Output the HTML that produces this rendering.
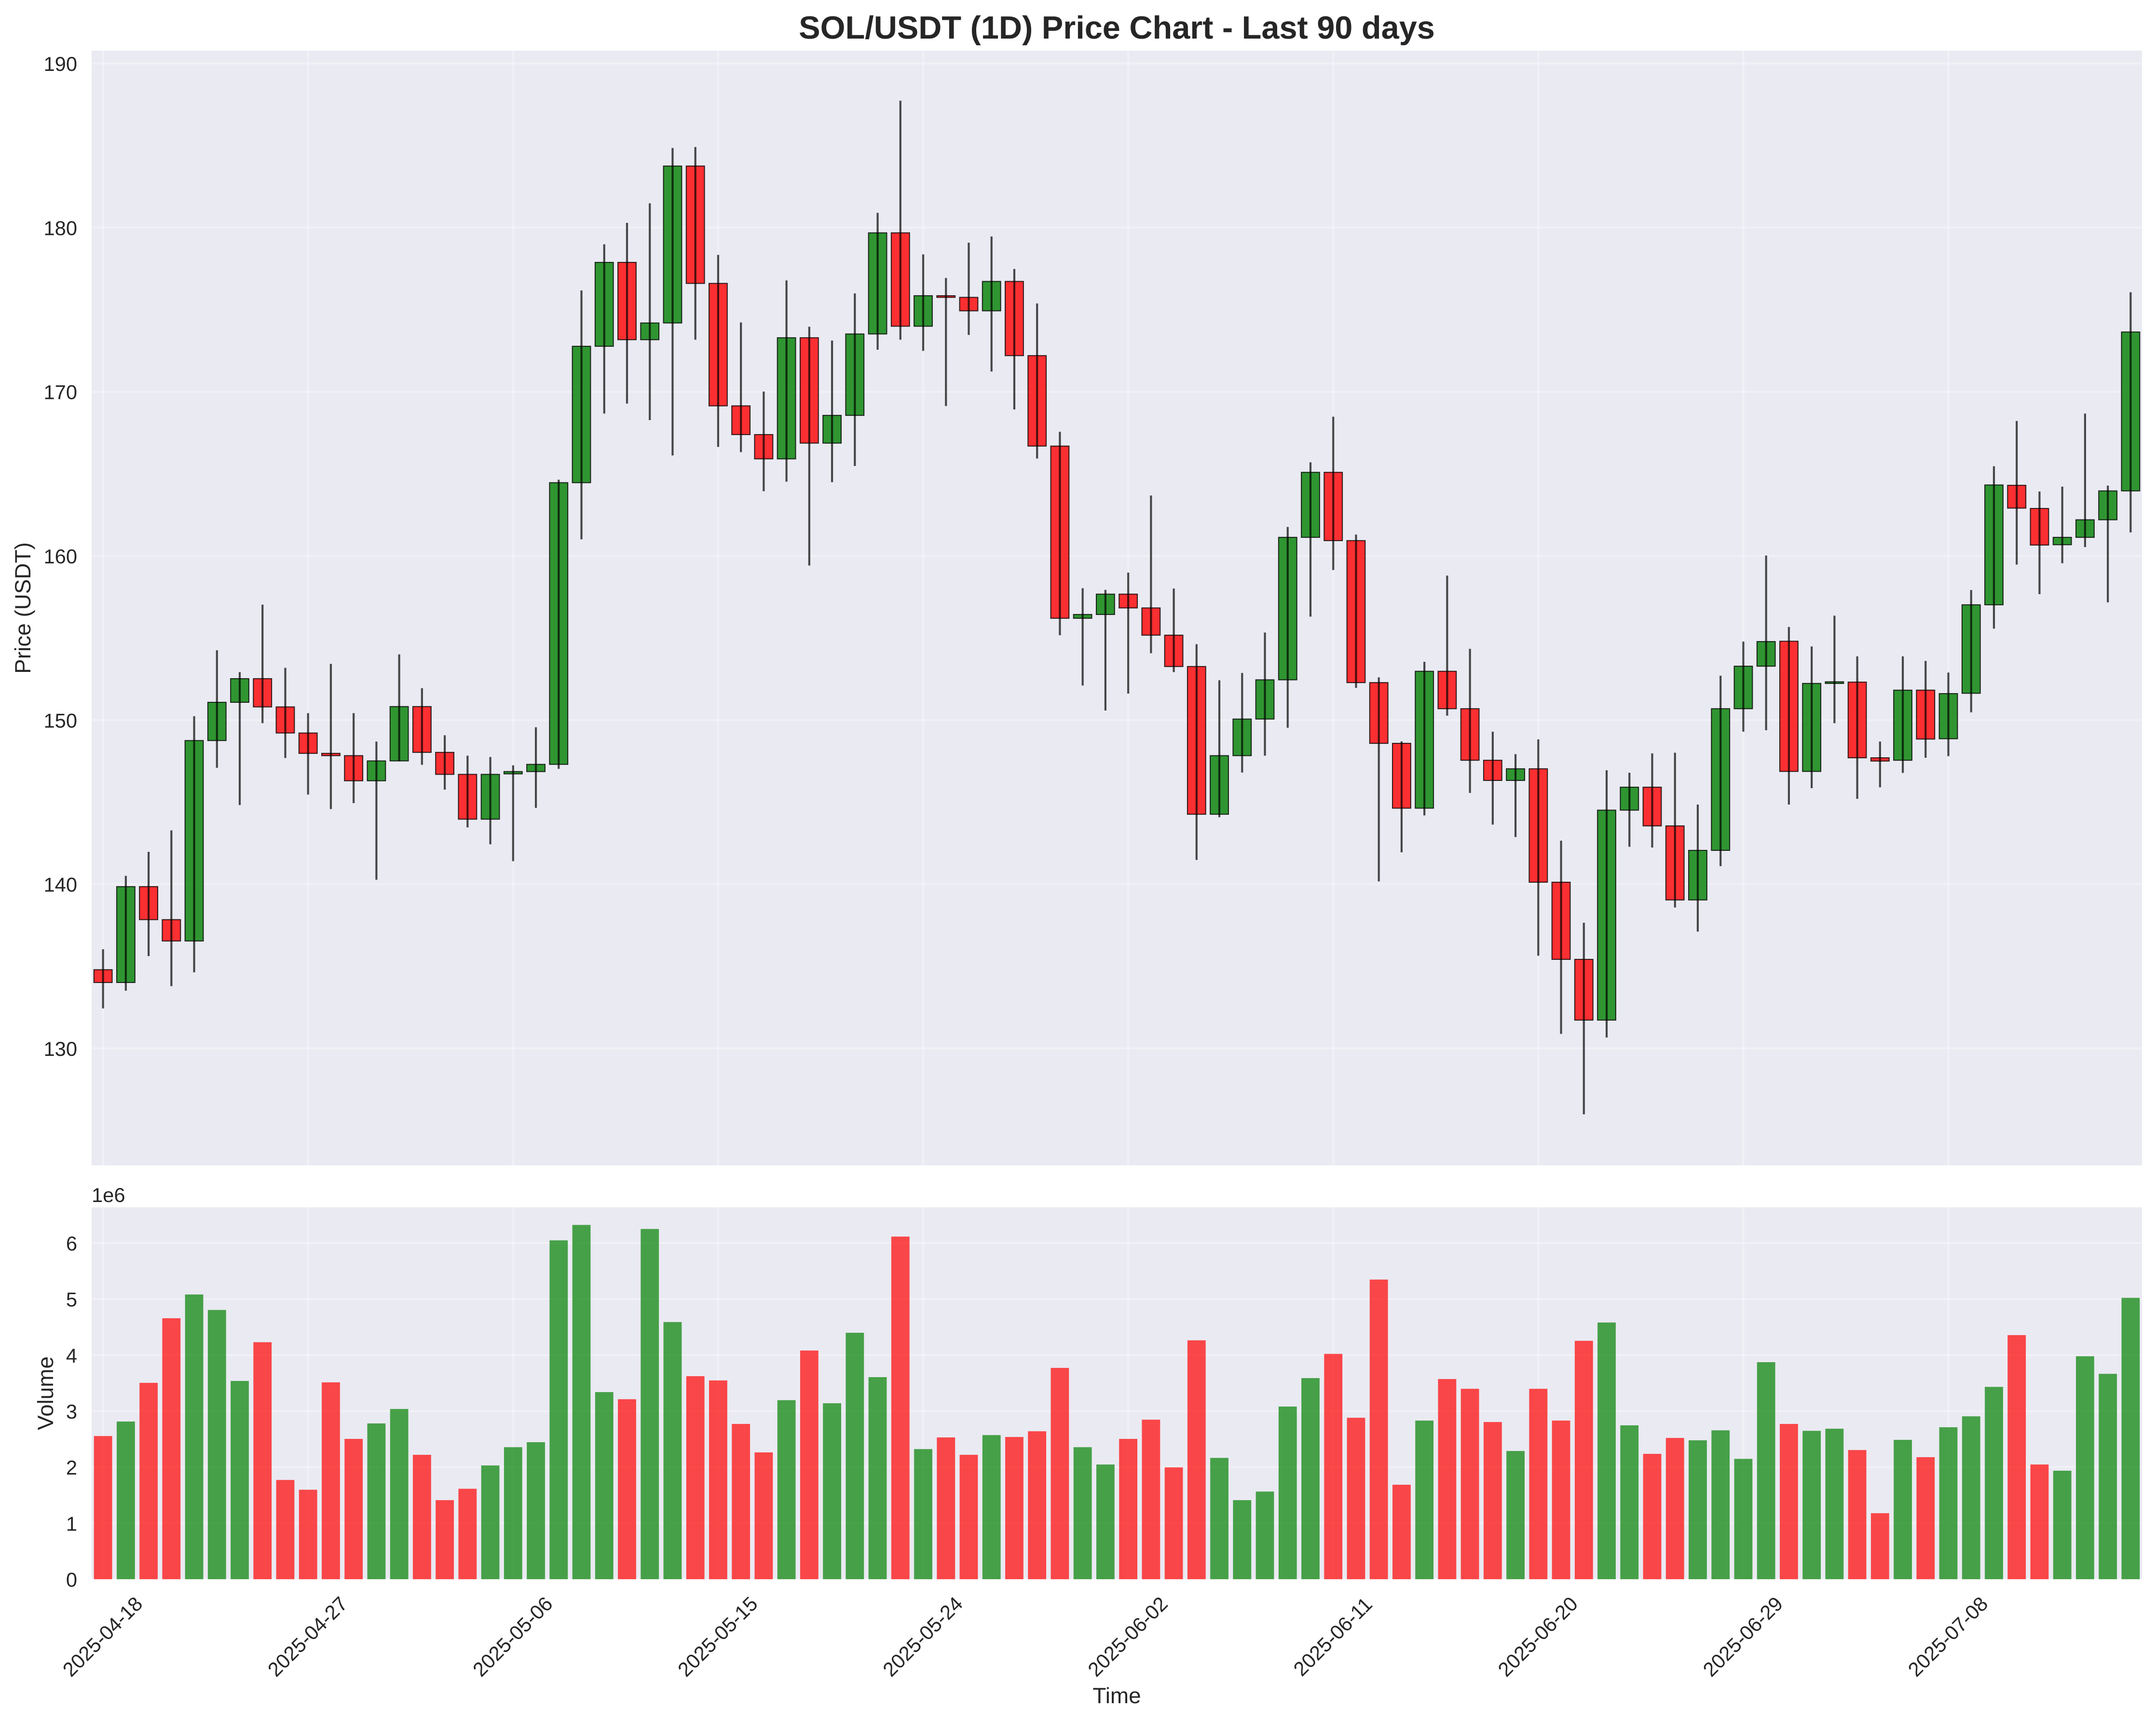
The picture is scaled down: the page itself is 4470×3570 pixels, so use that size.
<!DOCTYPE html>
<html lang="en">
<head>
<meta charset="utf-8">
<title>SOL/USDT (1D) Price Chart - Last 90 days</title>
<style>
html,body{margin:0;padding:0;background:#fff;}
svg{display:block;}
text{font-family:"Liberation Sans",Arial,sans-serif;fill:#262626;text-rendering:geometricPrecision;}
</style>
</head>
<body>
<svg id="chart" xmlns="http://www.w3.org/2000/svg" width="4470" height="3570" viewBox="0 0 4470 3570">
  <rect x="0" y="0" width="4470" height="3570" fill="#ffffff"/>
  <rect x="190" y="105" width="4251" height="2311" fill="#EAEAF2"/>
  <rect x="190" y="2503" width="4251" height="771" fill="#EAEAF2"/>
  <g id="grid"></g>
  <g id="volume-bars"></g>
  <g id="candles"></g>
  <g id="tick-labels"></g>
  <text x="2315.5" y="80" text-anchor="middle" font-size="66.67" font-weight="bold">SOL/USDT (1D) Price Chart - Last 90 days</text>
  <text transform="translate(63,1260.5) rotate(-90)" text-anchor="middle" font-size="45.83">Price (USDT)</text>
  <text transform="translate(110,2888.5) rotate(-90)" text-anchor="middle" font-size="45.83">Volume</text>
  <text x="2315.5" y="3531" text-anchor="middle" font-size="45.83">Time</text>
  <text x="190" y="2492" font-size="41.67">1e6</text>
</svg>
<script>
const categories = [
"2025-04-18","2025-04-19","2025-04-20","2025-04-21","2025-04-22","2025-04-23","2025-04-24","2025-04-25","2025-04-26","2025-04-27",
"2025-04-28","2025-04-29","2025-04-30","2025-05-01","2025-05-02","2025-05-03","2025-05-04","2025-05-05","2025-05-06","2025-05-07",
"2025-05-08","2025-05-09","2025-05-10","2025-05-11","2025-05-12","2025-05-13","2025-05-14","2025-05-15","2025-05-16","2025-05-17",
"2025-05-18","2025-05-19","2025-05-20","2025-05-21","2025-05-22","2025-05-23","2025-05-24","2025-05-25","2025-05-26","2025-05-27",
"2025-05-28","2025-05-29","2025-05-30","2025-05-31","2025-06-01","2025-06-02","2025-06-03","2025-06-04","2025-06-05","2025-06-06",
"2025-06-07","2025-06-08","2025-06-09","2025-06-10","2025-06-11","2025-06-12","2025-06-13","2025-06-14","2025-06-15","2025-06-16",
"2025-06-17","2025-06-18","2025-06-19","2025-06-20","2025-06-21","2025-06-22","2025-06-23","2025-06-24","2025-06-25","2025-06-26",
"2025-06-27","2025-06-28","2025-06-29","2025-06-30","2025-07-01","2025-07-02","2025-07-03","2025-07-04","2025-07-05","2025-07-06",
"2025-07-07","2025-07-08","2025-07-09","2025-07-10","2025-07-11","2025-07-12","2025-07-13","2025-07-14","2025-07-15","2025-07-16"];
const opens = [
134.79,134.01,139.85,137.84,136.54,148.75,151.08,152.52,150.80,149.21,
147.97,147.83,146.30,147.51,150.82,148.03,146.69,143.96,146.72,146.86,
147.30,164.46,172.77,177.88,173.17,174.19,183.75,176.60,169.14,167.39,
165.91,173.29,166.87,168.56,173.52,179.68,173.99,175.85,175.75,174.93,
176.72,172.20,166.69,156.20,156.43,157.67,156.83,155.17,153.26,144.26,
147.83,150.06,152.45,161.13,165.09,160.93,152.28,148.58,144.63,152.97,
150.69,147.55,146.32,147.03,140.12,135.42,131.72,144.51,145.91,143.55,
139.04,142.06,150.69,153.28,154.80,146.87,152.23,152.31,147.70,147.55,
151.82,148.86,151.63,157.02,164.30,162.89,160.68,161.13,162.20,163.96];
const closes = [
134.01,139.85,137.84,136.54,148.75,151.08,152.52,150.80,149.21,147.97,
147.83,146.30,147.51,150.82,148.03,146.69,143.96,146.69,146.86,147.30,
164.46,172.77,177.88,173.17,174.19,183.75,176.60,169.14,167.39,165.91,
173.29,166.87,168.56,173.52,179.68,173.99,175.85,175.75,174.93,176.72,
172.20,166.69,156.20,156.43,157.67,156.83,155.17,153.26,144.26,147.83,
150.06,152.45,161.13,165.09,160.93,152.28,148.58,144.63,152.97,150.69,
147.55,146.32,147.03,140.12,135.42,131.72,144.51,145.91,143.55,139.04,
142.06,150.69,153.28,154.78,146.87,152.23,152.33,147.70,147.50,151.82,
148.84,151.61,157.02,164.32,162.91,160.66,161.13,162.20,163.96,173.64];
const highs = [
136.04,140.51,141.97,143.28,150.23,154.25,152.92,157.03,153.18,150.42,
153.42,150.42,148.69,154.00,151.94,149.07,147.83,147.75,147.24,149.56,
164.64,176.17,178.98,180.29,181.48,184.85,184.91,178.34,174.22,170.01,
176.78,173.96,173.12,175.99,180.90,187.73,178.37,176.93,179.08,179.46,
177.48,175.38,167.56,158.03,157.93,158.98,163.68,158.01,154.62,152.42,
152.87,155.33,161.76,165.70,168.48,161.30,152.60,148.70,153.55,158.80,
154.34,149.29,147.92,148.82,142.65,137.65,146.94,146.79,147.97,148.01,
144.85,152.70,154.78,160.02,155.67,154.48,156.36,153.88,148.69,153.88,
153.60,152.89,157.92,165.46,168.22,163.92,164.22,168.67,164.28,176.06];
const lows = [
132.43,133.51,135.62,133.79,134.63,147.09,144.82,149.81,147.69,145.46,
144.58,144.94,140.27,147.49,147.27,145.76,143.46,142.43,141.40,144.65,
147.03,161.01,168.67,169.28,168.27,166.12,173.17,166.64,166.32,163.94,
164.52,159.41,164.49,165.48,172.56,173.17,172.49,169.13,173.46,171.23,
168.92,165.93,155.17,152.10,150.58,151.61,154.07,152.92,141.48,144.08,
146.80,147.83,149.53,156.30,159.14,151.96,140.17,141.94,144.19,150.27,
145.56,143.63,142.87,135.64,130.88,125.98,130.66,142.28,142.23,138.58,
137.11,141.10,149.29,149.38,144.85,145.85,149.81,145.20,145.90,146.78,
147.70,147.80,150.47,155.57,159.47,157.67,159.55,160.54,157.17,161.43];
const volumeMillions = [
2.555,2.814,3.504,4.657,5.081,4.805,3.538,4.229,1.771,1.597,
3.513,2.504,2.780,3.038,2.220,1.411,1.614,2.030,2.356,2.445,
6.047,6.322,3.339,3.212,6.250,4.589,3.623,3.547,2.771,2.263,
3.195,4.081,3.140,4.398,3.606,6.114,2.322,2.530,2.220,2.572,
2.538,2.640,3.771,2.356,2.047,2.504,2.847,1.996,4.263,2.165,
1.411,1.564,3.081,3.589,4.021,2.881,5.347,1.686,2.831,3.572,
3.398,2.805,2.288,3.398,2.831,4.254,4.581,2.746,2.237,2.521,
2.479,2.657,2.148,3.873,2.771,2.648,2.686,2.305,1.178,2.487,
2.178,2.712,2.907,3.432,4.356,2.047,1.936,3.979,3.665,5.021];
const xTickLabels = ["2025-04-18","2025-04-27","2025-05-06","2025-05-15","2025-05-24","2025-06-02","2025-06-11","2025-06-20","2025-06-29","2025-07-08"];
const priceTicks = [130,140,150,160,170,180,190];
const volumeTicks = [0,1,2,3,4,5,6];

const SVG_NS = "http://www.w3.org/2000/svg";
const LEFT = 190, RIGHT = 4441;
const PRICE_TOP = 105, PRICE_BOTTOM = 2416;
const VOL_TOP = 2503, VOL_BOTTOM = 3274;
const X_MIN = -0.5, X_MAX = categories.length - 0.5;
const PRICE_MIN = 122.87, PRICE_MAX = 190.78;
const VOL_MIN = 0, VOL_MAX = 6.636;
const BAR_WIDTH = 0.8;

function xScale(i){ return LEFT + (i - X_MIN) / (X_MAX - X_MIN) * (RIGHT - LEFT); }
function priceScale(p){ return PRICE_TOP + (PRICE_MAX - p) / (PRICE_MAX - PRICE_MIN) * (PRICE_BOTTOM - PRICE_TOP); }
function volumeScale(v){ return VOL_BOTTOM - (v - VOL_MIN) / (VOL_MAX - VOL_MIN) * (VOL_BOTTOM - VOL_TOP); }
function bandWidth(){ return BAR_WIDTH * (xScale(1) - xScale(0)); }

function make(tag, attrs, parent){
  const node = document.createElementNS(SVG_NS, tag);
  for (const k in attrs) node.setAttribute(k, attrs[k]);
  parent.appendChild(node);
  return node;
}

const gridGroup = document.getElementById("grid");
const barGroup = document.getElementById("volume-bars");
const candleGroup = document.getElementById("candles");
const labelGroup = document.getElementById("tick-labels");
const gridStyle = {stroke:"#ffffff","stroke-opacity":0.3,"stroke-width":4.17};

priceTicks.forEach(function(t){
  const y = priceScale(t);
  const line = make("line", Object.assign({x1:LEFT,x2:RIGHT,y1:y,y2:y}, gridStyle), gridGroup);
  
  
  const label = make("text", {x:160,y:y+15.5,"text-anchor":"end","font-size":41.67}, labelGroup);
  label.textContent = String(t);
  
  
});

volumeTicks.forEach(function(t){
  const y = volumeScale(t);
  const line = make("line", Object.assign({x1:LEFT,x2:RIGHT,y1:y,y2:y}, gridStyle), gridGroup);
  
  
  const label = make("text", {x:160,y:y+15.5,"text-anchor":"end","font-size":41.67}, labelGroup);
  label.textContent = String(t);
  
  
});

xTickLabels.forEach(function(d){
  const x = xScale(categories.indexOf(d));
  const upper = make("line", Object.assign({x1:x,x2:x,y1:PRICE_TOP,y2:PRICE_BOTTOM}, gridStyle), gridGroup);
  
  
  const lower = make("line", Object.assign({x1:x,x2:x,y1:VOL_TOP,y2:VOL_BOTTOM}, gridStyle), gridGroup);
  
  
  const label = make("text", {transform:"translate(" + (x - 1.5) + ",3392.5) rotate(-45)",y:15,"text-anchor":"middle","font-size":41.67}, labelGroup);
  label.textContent = d;
  
  
});

categories.forEach(function(d, i){
  const up = closes[i] >= opens[i];
  const fill = up ? "#008000" : "#ff0000";
  const w = bandWidth();
  const cx = xScale(i);

  const vTop = volumeScale(volumeMillions[i]);
  const bar = make("rect", {x:cx-w/2,y:vTop,width:w,height:volumeScale(0)-vTop,fill:fill,"fill-opacity":0.7}, barGroup);
  
  

  const bodyTop = priceScale(Math.max(opens[i], closes[i]));
  const bodyBottom = priceScale(Math.min(opens[i], closes[i]));
  const body = make("rect", {x:cx-w/2,y:bodyTop,width:w,height:bodyBottom-bodyTop,fill:fill,"fill-opacity":0.8,stroke:"#000000","stroke-opacity":0.8,"stroke-width":2.08}, candleGroup);
  
  

  const wick = make("line", {x1:cx,x2:cx,y1:priceScale(highs[i]),y2:priceScale(lows[i]),stroke:"#000000","stroke-opacity":0.7,"stroke-width":4.17}, candleGroup);
  
  
});
</script>
</body>
</html>
